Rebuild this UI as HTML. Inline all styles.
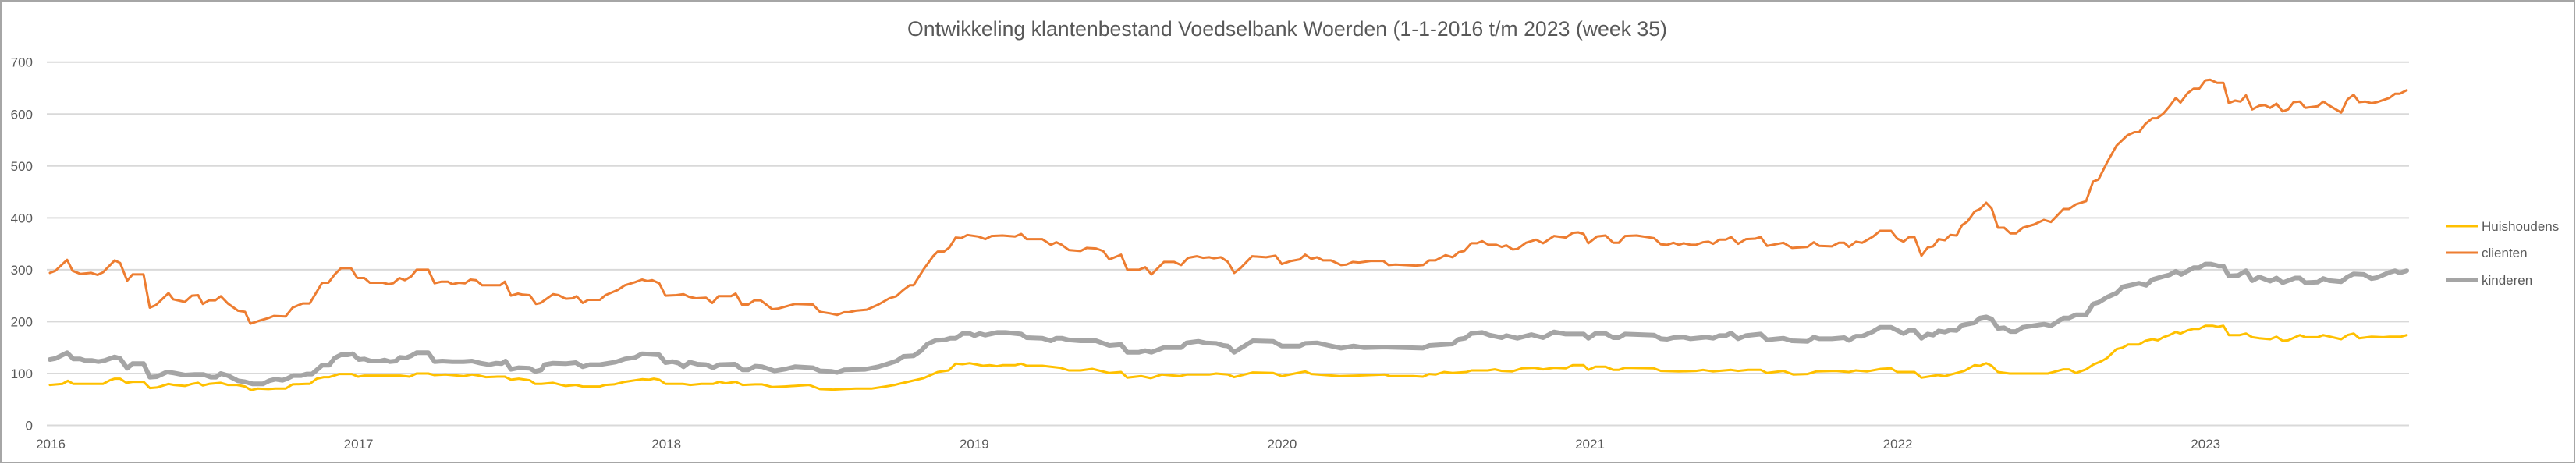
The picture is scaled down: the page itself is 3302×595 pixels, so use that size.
<!DOCTYPE html>
<html><head><meta charset="utf-8"><style>
html,body{margin:0;padding:0;background:#fff;}
svg{display:block;}
text{font-family:"Liberation Sans",sans-serif;fill:#595959;}
</style></head><body>
<svg id="c" width="3302" height="595" viewBox="0 0 3302 595" xmlns="http://www.w3.org/2000/svg">
<rect x="1" y="1" width="3299" height="592" fill="#fff" stroke="#a6a6a6" stroke-width="2"/>
<text x="1650" y="46" text-anchor="middle" font-size="27" textLength="974" lengthAdjust="spacingAndGlyphs">Ontwikkeling klantenbestand Voedselbank Woerden (1-1-2016 t/m 2023 (week 35)</text>
<g id="grid" stroke="#d9d9d9" stroke-width="2"></g>
<g id="ylab" font-size="17" text-anchor="end"></g>
<g id="xlab" font-size="17" text-anchor="middle"></g>
<g id="series" fill="none" stroke-linejoin="round" stroke-linecap="round"></g>
<g font-size="17">
<line x1="3136" y1="290" x2="3176" y2="290" stroke="#ffc000" stroke-width="3"/>
<text x="3181" y="296">Huishoudens</text>
<line x1="3136" y1="324" x2="3176" y2="324" stroke="#ed7d31" stroke-width="3"/>
<text x="3181" y="330">clienten</text>
<line x1="3136" y1="359" x2="3176" y2="359" stroke="#a5a5a5" stroke-width="6"/>
<text x="3181" y="365">kinderen</text>
</g>
</svg>
<script>
var NS="http://www.w3.org/2000/svg";
function Y(v){return 545.5-v*0.6654;}
var g=document.getElementById('grid'),yl=document.getElementById('ylab'),xl=document.getElementById('xlab');
for(var i=0;i<=7;i++){var y=Y(i*100);var l=document.createElementNS(NS,'line');l.setAttribute('x1',60);l.setAttribute('x2',3088);l.setAttribute('y1',y);l.setAttribute('y2',y);g.appendChild(l);
var t=document.createElementNS(NS,'text');t.setAttribute('x',42);t.setAttribute('y',y+6);t.textContent=i*100;yl.appendChild(t);}
for(var k=0;k<8;k++){var t=document.createElementNS(NS,'text');t.setAttribute('x',65+k*394.6);t.setAttribute('y',575);t.textContent=2016+k;xl.appendChild(t);}
var cl=[64,294,71,298,86,319,93,298,103,292,117,294,125,290,132,295,147,318,154,313,163,279,170,291,184,291,192,227,200,232,216,255,222,243,237,238,246,250,254,251,260,234,268,241,276,241,283,249,292,235,305,221,314,219,321,196,333,202,344,207,351,211,366,210,375,227,388,235,397,235,413,275,421,275,429,291,437,303,450,303,458,284,467,284,474,275,491,275,498,272,504,274,512,284,519,280,527,287,534,300,549,300,557,274,566,277,574,277,580,272,588,275,596,274,603,281,610,280,618,270,641,270,647,277,655,250,664,254,670,252,679,251,687,234,693,236,709,253,716,251,725,244,734,245,739,249,747,236,754,242,769,242,776,251,792,261,801,270,814,276,823,281,830,278,836,280,845,274,853,250,867,251,876,253,883,248,892,245,905,246,913,236,921,249,937,249,943,254,951,233,959,233,967,241,975,241,990,224,997,225,1019,234,1042,233,1051,219,1064,216,1073,213,1082,218,1088,218,1097,221,1111,223,1126,233,1140,245,1149,249,1158,261,1166,270,1171,270,1184,301,1196,326,1202,335,1210,335,1217,343,1225,362,1232,361,1240,367,1254,364,1263,359,1271,365,1285,366,1301,364,1309,369,1316,359,1336,359,1347,348,1354,353,1361,348,1370,338,1385,336,1393,342,1405,341,1414,336,1422,320,1437,329,1445,300,1460,300,1468,305,1476,291,1492,315,1505,315,1514,309,1523,323,1534,326,1542,323,1550,324,1556,322,1565,324,1574,315,1582,294,1590,303,1605,326,1623,324,1635,327,1643,311,1655,317,1666,320,1673,329,1681,321,1688,324,1696,318,1706,318,1719,309,1726,310,1734,315,1742,314,1757,317,1773,317,1780,309,1789,310,1815,308,1824,309,1832,318,1840,318,1853,328,1862,324,1870,334,1877,336,1886,351,1893,351,1900,355,1908,348,1918,348,1925,344,1931,347,1939,339,1945,340,1956,352,1969,358,1978,351,1992,365,2007,362,2016,371,2023,372,2030,369,2036,351,2047,364,2058,366,2068,352,2075,352,2083,365,2098,366,2120,361,2129,349,2137,348,2145,352,2152,348,2158,351,2167,348,2174,348,2183,353,2190,354,2196,350,2204,358,2212,358,2219,363,2228,350,2238,359,2250,360,2257,363,2265,346,2286,352,2297,342,2317,344,2325,353,2332,346,2348,345,2357,352,2364,352,2370,344,2379,354,2387,352,2401,364,2410,375,2424,375,2432,360,2440,354,2447,363,2454,363,2463,327,2471,343,2478,345,2485,359,2493,357,2500,367,2508,366,2515,386,2522,393,2531,412,2538,417,2546,429,2553,418,2561,381,2569,381,2577,370,2584,370,2593,381,2607,387,2620,396,2629,392,2645,417,2652,417,2661,426,2674,432,2683,470,2690,474,2701,507,2713,539,2727,559,2736,565,2742,565,2750,581,2759,592,2765,592,2773,601,2781,615,2789,631,2795,622,2804,640,2812,649,2819,649,2827,665,2833,666,2842,660,2850,660,2857,621,2865,626,2872,624,2879,636,2887,609,2896,616,2903,617,2910,612,2918,620,2926,605,2933,609,2940,623,2948,624,2955,612,2971,615,2978,624,2986,616,3001,603,3009,628,3017,637,3024,623,3032,624,3040,621,3047,623,3063,631,3070,639,3076,639,3085,646];
var ki=[64,127,71,129,86,140,94,128,103,128,109,125,118,125,126,123,134,125,147,132,154,129,163,110,170,119,184,119,192,93,201,94,214,103,223,101,237,97,250,98,261,98,270,93,277,93,283,100,292,96,305,86,314,84,324,80,337,80,345,86,353,89,362,87,368,90,376,96,386,96,393,99,400,99,413,116,422,116,429,130,437,136,446,136,452,138,460,127,467,128,475,124,487,124,493,126,500,123,507,124,513,131,520,130,527,134,534,140,549,140,557,123,567,124,580,123,594,123,605,124,616,120,627,117,636,120,643,119,648,124,655,108,665,111,679,110,686,104,694,107,698,117,709,120,725,119,738,121,747,113,756,117,769,117,789,122,801,128,814,131,823,138,834,137,845,136,853,121,862,123,870,120,876,113,884,122,894,118,905,117,914,111,922,117,942,118,952,107,959,107,968,114,977,113,993,105,1008,109,1019,113,1042,111,1051,105,1066,104,1073,102,1082,107,1109,108,1126,113,1149,124,1158,133,1171,134,1180,143,1189,157,1200,164,1211,165,1218,168,1225,168,1234,177,1243,177,1249,173,1256,177,1263,174,1278,179,1289,179,1309,176,1316,169,1336,168,1347,163,1354,168,1361,168,1369,165,1385,163,1405,163,1422,154,1437,156,1445,141,1460,141,1468,144,1476,141,1492,150,1514,150,1521,159,1536,162,1545,159,1559,158,1568,154,1574,153,1582,141,1606,163,1632,162,1643,153,1666,153,1673,158,1688,159,1719,149,1735,153,1748,150,1775,151,1824,149,1832,154,1862,157,1870,166,1878,168,1886,177,1900,179,1909,174,1925,169,1931,173,1945,168,1963,175,1978,169,1992,180,2007,176,2030,176,2036,168,2045,177,2058,177,2068,169,2075,169,2083,176,2120,174,2129,167,2137,166,2145,169,2158,170,2167,167,2187,170,2196,168,2204,173,2212,173,2219,178,2228,167,2238,173,2257,176,2265,165,2286,168,2297,163,2317,162,2325,170,2332,167,2348,167,2364,169,2370,164,2379,172,2387,172,2401,181,2410,189,2424,189,2440,177,2447,183,2454,183,2463,168,2471,176,2478,174,2485,182,2493,180,2500,184,2508,183,2515,193,2531,198,2538,207,2546,209,2553,205,2561,187,2569,188,2577,181,2584,181,2593,189,2620,195,2629,192,2645,207,2652,207,2661,213,2674,213,2683,234,2690,237,2701,247,2713,255,2721,267,2742,274,2751,270,2759,281,2773,287,2781,290,2789,297,2796,291,2812,304,2819,304,2827,311,2834,311,2844,307,2850,307,2857,288,2869,289,2879,298,2887,279,2896,286,2910,278,2918,284,2926,275,2942,284,2948,284,2955,275,2971,276,2978,283,2986,279,3001,277,3009,286,3017,292,3030,291,3040,283,3047,285,3063,295,3070,298,3076,294,3085,298];
var hu=[64,78,80,80,87,86,94,80,132,80,141,87,147,90,154,90,162,82,170,84,184,84,192,72,201,73,216,80,223,78,237,76,246,80,254,82,260,77,268,80,283,82,292,78,304,78,314,75,322,68,330,71,344,70,353,71,366,71,375,79,393,80,397,80,406,90,415,93,422,93,435,99,451,99,459,94,467,96,513,96,525,94,534,100,549,100,557,97,571,98,594,95,605,98,614,96,623,93,638,94,647,94,655,88,665,90,679,87,686,80,694,80,709,82,725,76,738,78,747,75,769,75,776,78,787,79,801,84,823,89,832,88,838,90,845,88,853,80,876,80,885,78,899,80,914,80,922,84,930,81,943,84,952,78,968,79,977,79,990,74,1006,75,1037,78,1051,70,1068,69,1082,70,1097,71,1117,71,1135,75,1147,78,1155,81,1167,85,1184,91,1202,103,1216,106,1225,119,1234,118,1243,120,1260,115,1269,116,1278,114,1285,116,1301,116,1309,119,1316,115,1336,115,1347,113,1359,111,1370,106,1385,106,1400,109,1422,101,1437,103,1445,92,1463,95,1475,91,1489,98,1512,95,1521,98,1550,98,1559,100,1574,98,1582,93,1606,102,1632,101,1643,95,1673,104,1681,99,1717,95,1739,96,1775,98,1782,95,1811,95,1824,94,1832,99,1840,98,1851,103,1862,101,1880,103,1886,106,1907,106,1916,108,1925,105,1938,104,1951,110,1967,111,1978,108,1992,111,2007,110,2016,116,2030,116,2036,107,2045,113,2058,113,2068,107,2075,107,2083,111,2120,110,2129,105,2152,104,2174,105,2183,107,2196,104,2219,107,2228,105,2241,107,2257,107,2265,101,2286,105,2299,98,2317,99,2328,104,2353,105,2370,103,2379,106,2393,104,2411,109,2424,110,2432,103,2454,103,2463,92,2484,97,2493,95,2518,105,2531,116,2538,115,2546,120,2553,115,2561,103,2576,100,2625,100,2645,108,2652,108,2661,101,2674,108,2683,117,2694,124,2701,130,2713,147,2721,150,2728,156,2742,156,2750,163,2759,166,2766,164,2773,170,2781,174,2789,180,2795,177,2804,183,2812,186,2819,186,2827,192,2836,192,2843,190,2850,192,2857,174,2871,174,2879,177,2887,170,2896,168,2910,166,2918,171,2926,163,2933,164,2948,174,2955,170,2971,170,2978,174,3001,166,3009,174,3017,177,3024,168,3040,171,3055,170,3063,171,3078,171,3085,174];
var s=document.getElementById('series');
function add(a,col,w){var p=[];for(var i=0;i<a.length;i+=2)p.push(a[i]+','+Y(a[i+1]).toFixed(1));var pl=document.createElementNS(NS,'polyline');pl.setAttribute('points',p.join(' '));pl.setAttribute('stroke',col);pl.setAttribute('stroke-width',w);s.appendChild(pl);}
add(hu,'#ffc000',3);add(cl,'#ed7d31',3);add(ki,'#a5a5a5',6);
</script>
</body></html>
